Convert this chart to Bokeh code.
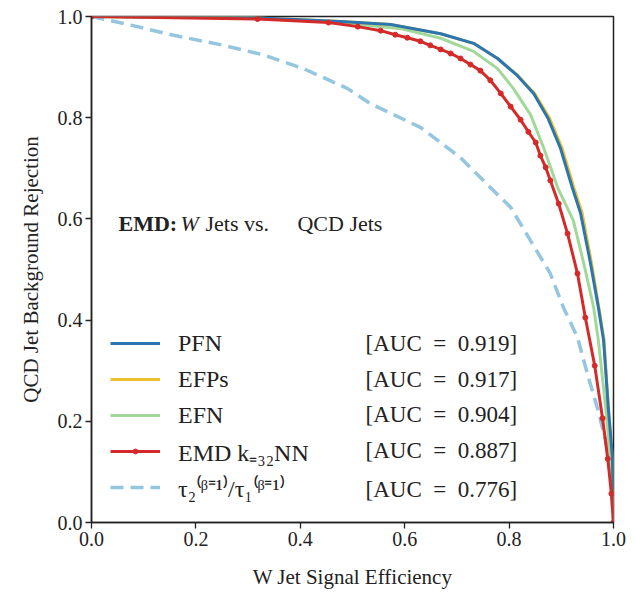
from bokeh.plotting import figure
from bokeh.models import Legend, LegendItem, Label, FixedTicker, PrintfTickFormatter, Range1d
from bokeh.embed import file_html
from bokeh.resources import INLINE

# ---- data ----
pfn_x = [0.0, 0.305, 0.477, 0.573, 0.669, 0.732, 0.778, 0.816, 0.847, 0.874, 0.898, 0.921, 0.937, 0.956, 0.971, 0.981, 0.990, 0.998, 1.0]
pfn_y = [1.0, 0.998, 0.990, 0.984, 0.966, 0.947, 0.917, 0.883, 0.848, 0.800, 0.741, 0.662, 0.611, 0.512, 0.425, 0.360, 0.227, 0.128, 0.0]

efp_x = [0.0, 0.305, 0.477, 0.573, 0.669, 0.732, 0.778, 0.817, 0.849, 0.877, 0.901, 0.924, 0.940, 0.958, 0.972, 0.982, 0.990, 0.998, 1.0]
efp_y = [1.0, 0.998, 0.990, 0.984, 0.966, 0.947, 0.917, 0.883, 0.848, 0.800, 0.741, 0.662, 0.611, 0.512, 0.425, 0.360, 0.227, 0.128, 0.0]

efn_x = [0.0, 0.305, 0.477, 0.592, 0.669, 0.732, 0.778, 0.808, 0.841, 0.866, 0.893, 0.923, 0.943, 0.962, 0.971, 0.985, 0.994, 1.0]
efn_y = [1.0, 0.998, 0.988, 0.976, 0.957, 0.931, 0.897, 0.858, 0.806, 0.741, 0.662, 0.597, 0.512, 0.425, 0.360, 0.227, 0.128, 0.0]

emd_x = [0.0, 0.318, 0.454, 0.510, 0.554, 0.582, 0.605, 0.630, 0.649, 0.669, 0.688, 0.707, 0.726, 0.745, 0.764,
         0.784, 0.803, 0.822, 0.837, 0.851, 0.860, 0.870, 0.879, 0.895, 0.912, 0.931, 0.946, 0.964, 0.979, 0.989, 0.996, 1.0]
emd_y = [1.0, 0.995, 0.988, 0.980, 0.972, 0.964, 0.958, 0.951, 0.943, 0.935, 0.927, 0.917, 0.905, 0.893, 0.874,
         0.848, 0.822, 0.796, 0.772, 0.751, 0.725, 0.702, 0.676, 0.630, 0.571, 0.492, 0.405, 0.310, 0.206, 0.126, 0.057, 0.0]

tau_x = [0.0, 0.075, 0.157, 0.253, 0.330, 0.406, 0.490, 0.534, 0.630, 0.707, 0.764, 0.803, 0.841, 0.879, 0.904,
         0.931, 0.950, 0.969, 0.985, 0.994, 1.0]
tau_y = [1.0, 0.983, 0.963, 0.943, 0.924, 0.897, 0.858, 0.828, 0.781, 0.721, 0.662, 0.623, 0.557, 0.492, 0.425,
         0.366, 0.294, 0.227, 0.162, 0.097, 0.0]

legend_labels = ["PFN", "EFPs", "EFN", "EMD k\u208c\u2083\u2082NN", "\u03c4\u2082\u207d\u1d5d\u207c\u00b9\u207e/\u03c4\u2081\u207d\u1d5d\u207c\u00b9\u207e"]
auc_values = [0.919, 0.917, 0.904, 0.887, 0.776]
ticks = [0.0, 0.2, 0.4, 0.6, 0.8, 1.0]

# ---- styles ----
FONT = "Liberation Serif"
C_PFN = "#2b76b0"
C_EFP = "#ecc130"
C_EFN = "#a3d89b"
C_EMD = "#d42a2a"
C_TAU = "#94c6df"

p = figure(frame_width=522, frame_height=506,
           x_range=Range1d(0, 1), y_range=Range1d(0, 1),
           output_backend="svg", toolbar_location=None,
           min_border_left=91, min_border_top=16, min_border_right=15, min_border_bottom=60,
           background_fill_color="white", border_fill_color="white")
p.grid.visible = False
p.outline_line_color = "#222222"
p.outline_line_width = 1.5

for ax in (p.xaxis[0], p.yaxis[0]):
    ax.ticker = FixedTicker(ticks=ticks)
    ax.formatter = PrintfTickFormatter(format="%.1f")
    ax.major_label_text_font = FONT
    ax.major_label_text_font_size = "20px"
    ax.major_label_text_color = "#222222"
    ax.axis_label_text_font = FONT
    ax.axis_label_text_font_size = "21px"
    ax.axis_label_text_font_style = "normal"
    ax.axis_label_text_color = "#222222"
    ax.axis_line_color = "#222222"
    ax.axis_line_width = 1.5
    ax.major_tick_line_color = "#222222"
    ax.major_tick_line_width = 1.3
    ax.major_tick_in = 0
    ax.major_tick_out = 6
    ax.minor_tick_line_color = None
    ax.major_label_standoff = 3
    ax.axis_label_standoff = 12

p.xaxis[0].axis_label_standoff = 16
p.xaxis[0].axis_label = "W Jet Signal Efficiency"
p.yaxis[0].axis_label = "QCD Jet Background Rejection"

r_tau = p.line(tau_x, tau_y, line_color=C_TAU, line_width=3.5, line_dash="13 7")
r_efn = p.line(efn_x, efn_y, line_color=C_EFN, line_width=3)
r_efp = p.line(efp_x, efp_y, line_color=C_EFP, line_width=3)
r_pfn = p.line(pfn_x, pfn_y, line_color=C_PFN, line_width=3)
r_emd = p.line(emd_x, emd_y, line_color=C_EMD, line_width=3)
r_emd_m = p.scatter(emd_x, emd_y, size=5, fill_color=C_EMD, line_color=C_EMD)

items = [
    LegendItem(label=legend_labels[0], renderers=[r_pfn]),
    LegendItem(label=legend_labels[1], renderers=[r_efp]),
    LegendItem(label=legend_labels[2], renderers=[r_efn]),
    LegendItem(label=legend_labels[3], renderers=[r_emd, r_emd_m]),
    LegendItem(label=legend_labels[4], renderers=[r_tau]),
]
legend = Legend(items=items, location=(19, 17), padding=0, margin=0, spacing=0,
                glyph_width=50, glyph_height=12, label_height=36, label_standoff=18,
                label_text_font=FONT, label_text_font_size="24px", label_text_color="#222222",
                border_line_color=None, background_fill_alpha=0)
p.add_layout(legend, "center")

# AUC column
row_y = [0.354, 0.283, 0.213, 0.142, 0.065]
for yv, auc in zip(row_y, auc_values):
    p.add_layout(Label(x=0.525, y=yv, text="[AUC\u2002=\u2002%.3f]" % auc,
                       text_font=FONT, text_font_size="23px", text_color="#222222",
                       text_baseline="middle", text_align="left"))

# annotation "EMD: W Jets vs. QCD Jets"
ann_y = 0.591
p.add_layout(Label(x=0.0517, y=ann_y, text="EMD:", text_font=FONT, text_font_size="22px",
                   text_font_style="bold", text_color="#222222", text_baseline="alphabetic"))
p.add_layout(Label(x=0.1705, y=ann_y, text="W", text_font=FONT, text_font_size="22px",
                   text_font_style="italic", text_color="#222222", text_baseline="alphabetic"))
p.add_layout(Label(x=0.2184, y=ann_y, text="Jets vs.", text_font=FONT, text_font_size="22px",
                   text_color="#222222", text_baseline="alphabetic"))
p.add_layout(Label(x=0.3946, y=ann_y, text="QCD Jets", text_font=FONT, text_font_size="22px",
                   text_color="#222222", text_baseline="alphabetic"))

open("out.html", "w").write(file_html(p, INLINE))
